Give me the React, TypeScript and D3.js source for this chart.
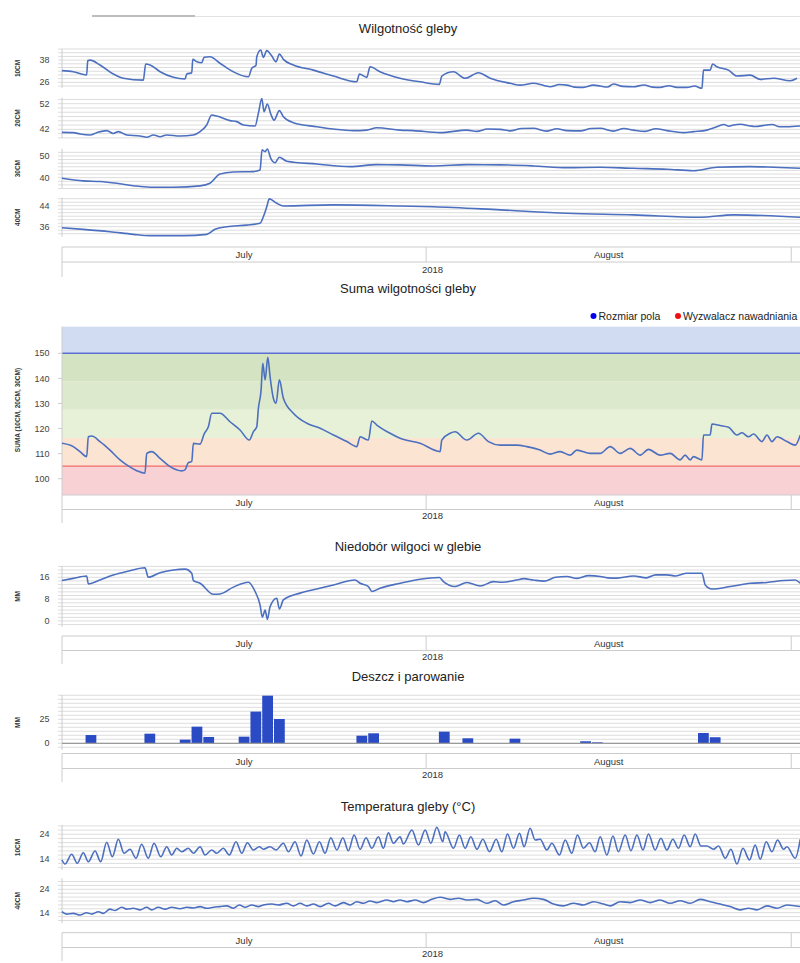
import * as d3 from 'd3'

// time is stored as days since 1 July 2018 (UTC)
const START = Date.UTC(2018, 6, 1)
const DAY = 864e5
const dayDate = (d: number) => new Date(START + d * DAY)

// Wilgotność gleby, 10 / 20 / 30 / 40 cm  [day, value]
const moist10: [number, number][] = [
  [0.08, 32.3], [1.04, 31.7], [2.18, 30], [2.27, 37.7], [2.46, 38], [3.31, 35.4], [4.44, 30.5], [5.29, 28.2],
  [6.99, 27.2], [7.19, 35.9], [7.56, 35.4], [8.41, 31.7], [9.54, 28.7], [10.53, 27.8], [10.68, 30.5], [11.1, 31.2],
  [11.19, 38.4], [11.53, 37.1], [11.95, 36.6], [12.15, 39.5], [12.65, 39.8], [13.5, 36.3], [14.63, 31.7], [15.91, 29],
  [16.2, 33.6], [16.56, 35.2], [16.62, 39.8], [16.96, 43.5], [17.18, 39.5], [17.47, 43.1], [17.9, 40.2], [18.26, 37.1],
  [18.54, 41.3], [18.88, 38.4], [19.73, 35.4], [21.43, 32.6], [23.13, 29.4], [25.11, 26.3], [25.34, 30.5], [25.96, 28.7],
  [26.24, 34.4], [27.09, 31.7], [28.79, 28.2], [30.49, 26.3], [32.13, 24.9], [32.33, 29.4], [33.32, 31.7], [34.31, 28.2],
  [35.44, 31.2], [36.44, 28.2], [38.13, 25.5], [39, 24.5], [40.11, 25.5], [41, 24.3], [41.53, 23.6], [42.3, 24.8],
  [42.95, 24.5], [43.6, 23.4], [44.36, 23.3], [45.2, 24.5], [45.78, 24], [46.4, 23.5], [46.91, 25.1], [47.7, 23.8],
  [48.61, 23.6], [49.5, 24.6], [50.2, 23.4], [50.87, 23.3], [51.6, 24.2], [52.3, 23.3], [53.14, 23.3], [53.8, 24],
  [54.42, 22.8], [54.55, 32.6], [55.12, 32.6], [55.32, 35.9], [55.69, 34.4], [56.68, 32.6], [57.39, 29.4], [58.52, 29.9],
  [59.37, 27.6], [60.5, 28.2], [61.92, 26.9], [62.49, 28.2],
]
const moist20: [number, number][] = [
  [0.08, 40.8], [1.04, 40.7], [1.61, 40.2], [2.46, 39.8], [3.03, 40.7], [3.88, 41.5], [4.44, 40.4], [4.87, 41.1],
  [5.58, 39.8], [6.71, 39.4], [7.28, 38.9], [7.84, 39.8], [8.41, 39.1], [8.98, 39.8], [10.11, 39.4], [11.24, 39.8],
  [11.81, 41.1], [12.37, 43.7], [12.8, 47.6], [13.22, 47.2], [14.35, 45.4], [14.92, 45], [15.48, 43.7], [16.48, 43.3],
  [16.76, 48.3], [17.05, 54], [17.24, 48.9], [17.52, 51.9], [17.81, 48], [18.09, 45.6], [18.54, 49.3], [18.88, 46.9],
  [19.73, 44.6], [21.72, 43], [23.13, 42.1], [24.83, 41.5], [25.96, 41.7], [26.81, 42.6], [28.79, 41.7], [29.92, 41.5],
  [32.19, 40.7], [34.46, 41.7], [35.3, 41.2], [36.2, 42.1], [37.29, 42], [38.1, 41.4], [39.1, 42.3], [40.11, 42.4],
  [41.2, 41.3], [42.1, 42.2], [42.95, 41.5], [44.1, 41.4], [45, 42.3], [45.78, 42.4], [46.9, 41.3], [47.8, 42.3],
  [48.61, 41.7], [49.6, 41.2], [50.5, 42.2], [51.44, 41.5], [52.85, 40.7], [53.7, 41.1], [54.84, 41.7], [55.69, 43],
  [56.3, 43.9], [56.7, 43.2], [57.1, 43.7], [57.7, 44], [58.52, 43.3], [58.9, 43.1], [59.94, 43.7], [60.4, 43.9],
  [61, 43], [61.64, 43], [62.77, 43.3],
]
const moist30: [number, number][] = [
  [0.08, 39.7], [1.89, 38.5], [3.31, 38.2], [4.73, 37.4], [6.14, 36.3], [7.56, 35.6], [9.54, 35.6], [11.81, 36.2],
  [12.65, 37.4], [13.5, 41.7], [14.63, 42.6], [16.33, 42.8], [16.9, 43.5], [17.07, 52.8], [17.33, 52], [17.52, 53.2],
  [17.81, 48.9], [18.18, 46.9], [18.54, 49.4], [19.17, 47.6], [21.72, 46.3], [24.55, 45.1], [26.81, 46], [28.79, 45.9],
  [31.62, 45.4], [34.46, 46], [37.29, 45.9], [40.11, 45.4], [42.95, 44.6], [45.78, 44.8], [48.61, 44.3], [51.44, 43.9],
  [53.7, 43.2], [55.69, 44.8], [58.52, 45.1], [60.5, 44.8], [62.77, 44.3],
]
const moist40: [number, number][] = [
  [0.08, 35.6], [1.89, 35], [4.16, 34.1], [6.14, 33.1], [7.56, 32.6], [10.39, 32.6], [12.37, 33.1], [13.08, 35],
  [14.07, 36], [15.77, 36.6], [16.9, 37.3], [17.18, 39.8], [17.47, 43.6], [17.69, 46.6], [18.32, 44.9], [18.88, 43.9],
  [23.13, 44.3], [28.79, 43.9], [31.62, 43.6], [37.29, 42.4], [42.95, 41.1], [48.61, 40.5], [54.27, 39.6], [57.1, 40.5],
  [62.77, 39.6],
]

// Suma wilgotności gleby (10+20+30 cm)
const moistSum: [number, number][] = [
  [0.08, 114.1], [1.04, 112.8], [1.61, 110.8], [2.18, 108.8], [2.32, 116.7], [2.61, 117], [3.31, 114.8], [4.16, 111.4],
  [5.01, 107.5], [5.58, 105.5], [6.43, 103.2], [7.13, 102.2], [7.28, 110.1], [7.7, 110.8], [8.41, 108.1], [9.26, 104.8],
  [10.25, 103.1], [10.53, 103.5], [10.81, 106.4], [11.1, 106.8], [11.24, 114.1], [11.81, 113.8], [12.15, 117.8], [12.51, 120.7],
  [12.8, 126.1], [13.5, 126.1], [14.35, 122.7], [15.2, 119.4], [15.99, 115.4], [16.33, 118.7], [16.62, 120.7], [16.76, 128.1],
  [16.99, 135.4], [17.13, 146], [17.33, 139.4], [17.56, 148.4], [17.75, 140.7], [18.03, 132.1], [18.26, 130.1], [18.54, 139.4],
  [18.88, 132.1], [19.73, 126.1], [20.87, 122.1], [22, 120.1], [23.13, 117.4], [24.27, 114.8], [25.11, 112.8], [25.4, 116.7],
  [26.1, 115.4], [26.39, 123], [26.81, 121.4], [27.94, 118.1], [28.79, 116.1], [30.49, 114.1], [32.19, 110.8], [32.33, 115.4],
  [33.04, 118.1], [33.46, 118.7], [34.46, 115.4], [35.44, 118.1], [36.29, 114.8], [37.29, 113.4], [38.7, 113.4], [39.55, 112.8],
  [40.68, 111.4], [41.53, 109.8], [42.38, 110.8], [43.23, 109.4], [43.8, 111.4], [44.93, 110.1], [45.78, 110.1], [46.63, 112.8],
  [47.48, 110.1], [48.33, 112.1], [49.18, 109.4], [49.88, 111.7], [50.87, 109.4], [51.72, 110.1], [52.57, 107.5], [52.99, 109.4],
  [53.42, 107.5], [53.7, 108.8], [54.42, 107.5], [54.55, 117.4], [55.12, 117.4], [55.27, 121.8], [55.97, 121.2], [56.68, 120.5],
  [57.39, 117.4], [57.82, 118.3], [58.38, 116.7], [58.8, 117.8], [59.51, 114.8], [59.94, 117.4], [60.36, 114.8], [60.79, 116.7],
  [61.64, 114.8], [62.34, 113.4], [62.77, 117.4],
]
const fieldCapacity = 150
const irrigationTrigger = 105
const zoneEdges = [105, 116.25, 127.5, 138.75, 150]

// Niedobór wilgoci w glebie (mm)
const deficit: [number, number][] = [
  [0.08, 14.8], [1.04, 15.6], [2.18, 16.5], [2.32, 13.6], [3.31, 15], [4.44, 16.8], [5.58, 18.1], [7.13, 19.5],
  [7.41, 16], [8.41, 17.7], [9.54, 18.7], [10.53, 19], [11.1, 17.5], [11.24, 14.8], [11.81, 13.8], [12.94, 9.8],
  [13.5, 9.9], [14.63, 12.4], [15.91, 14.2], [16.48, 10.8], [16.9, 5.9], [17.1, 1.4], [17.33, 4], [17.52, 0.6],
  [17.75, 5.2], [18.32, 8.3], [18.54, 4.4], [18.88, 7.7], [20.3, 10.2], [21.72, 11.7], [23.13, 13.2], [24.97, 15],
  [25.4, 13.8], [26.1, 12.6], [26.39, 10.8], [27.09, 12], [28.79, 13.8], [30.49, 15.3], [32.13, 15.9], [32.47, 14.4],
  [33.46, 12.6], [34.46, 14.1], [35.59, 12.8], [36.72, 14.4], [37.5, 14.2], [38.7, 15], [39.3, 15.5], [40.11, 15],
  [41, 14.6], [42, 16], [42.95, 16.3], [43.8, 15.6], [44.8, 16.6], [45.78, 16.3], [46.4, 15.8], [47.2, 15.7],
  [48.61, 16.5], [49.7, 15.8], [50.5, 16.9], [51.44, 16.9], [52.2, 16.5], [53.14, 17.5], [54.42, 17.5], [54.7, 13.2],
  [55.27, 11.7], [56.82, 12.6], [58.52, 13.8], [59.94, 14.1], [61.35, 14.8], [62.34, 15], [62.77, 13.8],
]

// Deszcz i parowanie (mm per day)
const rainDays = [2, 7, 10, 11, 12, 15, 16, 17, 18, 25, 26, 32, 34, 38, 44, 45, 54, 55]
const rainValues = [8.6, 10, 3.8, 17.3, 6.6, 6.9, 33, 49.6, 25.3, 7.9, 10.4, 12.1, 5.2, 4.8, 2.1, 1, 10.7, 6.3]

// Temperatura gleby (°C), 10 cm and 40 cm
const temp10: [number, number][] = [
  [0.08, 13.7], [0.34, 12.1], [0.91, 16], [1.38, 12.4], [1.89, 16.6], [2.32, 13], [2.89, 17.3], [3.37, 13],
  [3.88, 20.8], [4.36, 15], [4.87, 22], [5.35, 16.4], [5.86, 18], [6.37, 14.4], [6.85, 20], [7.41, 14.4],
  [7.9, 20.4], [8.47, 15], [8.98, 19], [9.4, 15.7], [9.83, 18.4], [10.25, 17], [10.81, 18.4], [11.24, 16.4],
  [11.81, 19], [12.23, 15.7], [12.8, 17.7], [13.22, 16.4], [13.78, 18.4], [14.29, 15.7], [14.86, 21], [15.35, 16.4],
  [15.82, 20.6], [16.33, 17.7], [16.84, 19], [17.18, 18], [17.75, 19], [18.26, 17.7], [18.88, 20.4], [19.31, 17],
  [19.87, 21], [20.38, 15.3], [20.87, 21.7], [21.43, 16.1], [21.94, 21], [22.42, 16.4], [22.91, 22.6], [23.42, 17.7],
  [23.93, 22.6], [24.4, 17.4], [24.89, 23.7], [25.4, 18], [25.9, 22.6], [26.39, 18.4], [26.95, 23], [27.37, 18.4],
  [27.8, 24.6], [28.22, 20.4], [28.79, 23], [29.07, 20.1], [29.79, 25.7], [30.35, 19.7], [30.92, 25.7], [31.4, 20.4],
  [31.91, 26.8], [32.42, 21], [32.61, 25], [33.32, 18.4], [33.83, 23.7], [34.31, 18.4], [34.8, 23], [35.31, 18],
  [35.82, 22], [36.38, 17], [36.95, 22], [37.43, 17], [37.91, 24.1], [38.42, 18.4], [38.93, 24.4], [39.32, 19],
  [39.83, 26.4], [40.26, 21.7], [40.68, 22], [41.25, 17.7], [41.68, 20.4], [42.32, 15.7], [42.81, 21.7], [43.37, 16.4],
  [43.85, 23.7], [44.36, 18.4], [44.87, 20.6], [45.35, 17], [45.78, 23], [46.35, 15.7], [46.86, 23.3], [47.33, 17],
  [47.9, 23.7], [48.39, 17.4], [48.9, 23.7], [49.41, 17.7], [49.88, 24.1], [50.45, 17.7], [50.93, 22.4], [51.44, 17.7],
  [51.95, 22], [52.43, 18.4], [52.91, 23.7], [53.42, 19], [53.85, 24.1], [54.33, 19.3], [54.84, 19.3], [55.4, 18],
  [55.83, 19.3], [56.4, 14.4], [56.88, 18], [57.39, 12.1], [57.9, 18.4], [58.46, 13.7], [58.94, 19.7], [59.37, 14],
  [59.88, 21], [60.36, 17], [60.84, 21.7], [61.35, 18], [61.64, 19], [62.34, 14.4], [62.77, 22],
]
const temp40: [number, number][] = [
  [0.08, 14.4], [0.48, 13.4], [1.04, 13.7], [1.61, 13], [2.18, 14], [2.61, 13.4], [3.17, 14.4], [3.59, 13.7],
  [4.16, 15.5], [4.59, 14.9], [5.16, 16.3], [5.58, 15.5], [6.14, 15.9], [6.71, 15.2], [7.28, 16.3], [7.7, 15.2],
  [8.26, 16.3], [8.83, 15.5], [9.4, 16.3], [10.11, 15.7], [10.68, 16.3], [11.24, 16], [11.81, 16.6], [12.37, 15.9],
  [12.94, 16.3], [13.5, 16.6], [14.07, 16.9], [14.63, 15.9], [15.14, 17.3], [15.63, 16.3], [16.2, 17.3], [16.76, 16.6],
  [17.18, 17.3], [17.9, 17.7], [18.46, 17.3], [19.17, 18], [19.73, 16.9], [20.3, 18], [20.87, 16.9], [21.43, 17.7],
  [22, 16.6], [22.7, 18], [23.27, 16.9], [23.98, 18.3], [24.55, 17.3], [25.11, 18.7], [25.67, 18], [26.24, 19],
  [26.81, 18.3], [27.66, 19.4], [28.22, 18.7], [28.79, 19.4], [29.36, 18.7], [30.07, 19.4], [30.77, 18.3], [31.48, 19.7],
  [32.19, 20.6], [33.04, 19.7], [33.74, 20.2], [34.46, 19.4], [35.31, 19.7], [36.16, 18], [36.86, 19.1], [37.57, 17.3],
  [38.42, 18.7], [39.26, 19.4], [40.11, 20.2], [40.96, 19.7], [41.81, 17.7], [42.66, 16.9], [43.51, 18], [44.36, 17.3],
  [45.21, 18.7], [46.06, 17.7], [46.63, 16.9], [47.48, 18.7], [48.33, 18.3], [49.18, 19.4], [50.03, 18.3], [50.87, 19.4],
  [51.72, 18], [52.57, 19.1], [53.42, 18], [54.27, 19.7], [55.12, 18.7], [55.97, 17.7], [56.82, 16.6], [57.67, 15.2],
  [58.38, 15.9], [59.09, 15.2], [59.94, 16.9], [60.79, 15.9], [61.64, 17.3], [62.77, 16.6],
]

// labelled axis values
const moistTicks = [[26, 38], [42, 52], [40, 50], [36, 44]]
const sumTicks = [100, 110, 120, 130, 140, 150]
const deficitTicks = [0, 8, 16]
const rainTicks = [0, 25]
const tempTicks = [14, 24]

const W = 800
const H = 963
const LEFT = 62
const RIGHT = 803
const FONT = 'Arial, "Liberation Sans", sans-serif'
const LINE = '#4c6fbf'
const GRID = '#dddddd'
const AXIS = '#cccccc'

const x = d3.scaleUtc().domain([dayDate(0), dayDate(63)]).range([61, RIGHT])

function gridValues(lo: number, hi: number, anchor: number, step: number) {
  const out: number[] = []
  let v = anchor
  while (v - step >= lo - 1e-6) v -= step
  for (; v <= hi + 1e-6; v += step) out.push(v)
  return out
}

const AxisLabel = ({ cy, text }: { cy: number; text: string }) => (
  <text transform={`translate(20,${cy}) rotate(-90)`} textAnchor='middle' fontSize={6.5} fontWeight='bold' fill='#333'>
    {text}
  </text>
)

const TickLabels = ({ y, ticks }: { y: d3.ScaleLinear<number, number>; ticks: number[] }) => (
  <g>
    {ticks.map((t) => (
      <text key={t} x={49.5} y={y(t)} dy='0.35em' textAnchor='end' fontSize={9} fill='#444'>
        {t}
      </text>
    ))}
  </g>
)

type PanelProps = {
  top: number
  bottom: number
  domain: [number, number]
  ticks: number[]
  step: number
  label: string
  children: (y: d3.ScaleLinear<number, number>) => any
}

const Panel = ({ top, bottom, domain, ticks, step, label, children }: PanelProps) => {
  const y = d3.scaleLinear().domain(domain).range([bottom, top])
  return (
    <g>
      {gridValues(domain[0], domain[1], ticks[0], step).map((v) => (
        <line key={v} x1={58} x2={RIGHT} y1={y(v)} y2={y(v)} stroke={GRID} />
      ))}
      <line x1={LEFT} x2={LEFT} y1={top} y2={bottom} stroke={AXIS} />
      <TickLabels y={y} ticks={ticks} />
      <AxisLabel cy={(top + bottom) / 2} text={label} />
      {children(y)}
    </g>
  )
}

const linePath = (y: d3.ScaleLinear<number, number>, data: [number, number][]) =>
  d3
    .line<[number, number]>()
    .curve(d3.curveMonotoneX)
    .x((d) => x(dayDate(d[0])))
    .y((d) => y(d[1]))(data) || ''

const Series = ({ y, data }: { y: d3.ScaleLinear<number, number>; data: [number, number][] }) => (
  <path d={linePath(y, data)} fill='none' stroke={LINE} strokeWidth={1.6} strokeLinejoin='round' />
)

// the month / year strip under each chart
const TimeAxis = ({ top, mid, bottom }: { top: number; mid: number; bottom: number }) => {
  const months = d3.utcMonth.range(d3.utcMonth.floor(dayDate(0)), dayDate(63))
  return (
    <g>
      <line x1={LEFT} x2={RIGHT} y1={top} y2={top} stroke={AXIS} />
      <line x1={LEFT} x2={RIGHT} y1={mid} y2={mid} stroke={AXIS} />
      <line x1={LEFT} x2={LEFT} y1={top} y2={bottom} stroke={AXIS} />
      {months.map((m) => {
        const a = x(m)
        const b = x(d3.utcMonth.offset(m, 1))
        const s = Math.max(a, LEFT)
        const e = Math.min(b, RIGHT)
        return (
          <g key={m.getTime()}>
            {a > LEFT + 1 && <line x1={a} x2={a} y1={top} y2={mid} stroke={AXIS} />}
            {e - s > 40 && (
              <text x={(s + e) / 2} y={mid - 4} textAnchor='middle' fontSize={9.5} fill='#333'>
                {d3.utcFormat('%B')(m)}
              </text>
            )}
          </g>
        )
      })}
      <text x={(LEFT + RIGHT) / 2} y={bottom - 4} textAnchor='middle' fontSize={9.5} fill='#333'>
        {d3.utcFormat('%Y')(dayDate(0))}
      </text>
    </g>
  )
}

const Title = ({ y, text }: { y: number; text: string }) => (
  <text x={408} y={y} textAnchor='middle' fontSize={13} fill='#222'>
    {text}
  </text>
)

const zoneColors = ['#fbe5d2', '#e7f1d8', '#dde9cc', '#d4e4c2']

const App = () => {
  const ySum = d3.scaleLinear().domain([93.5, 160.6]).range([495, 326.7])
  const yRain = d3.scaleLinear().domain([-7, 50.3]).range([750, 695])
  const dayW = x(dayDate(1)) - x(dayDate(0))
  const moistPanels = [
    { top: 49, bottom: 87.9, domain: [23, 44] as [number, number], step: 2, label: '10CM', data: moist10 },
    { top: 97.8, bottom: 138.3, domain: [38.5, 54.3] as [number, number], step: 10 / 6, label: '20CM', data: moist20 },
    { top: 148.8, bottom: 188.5, domain: [35, 53.3] as [number, number], step: 10 / 6, label: '30CM', data: moist30 },
    { top: 197.8, bottom: 236.7, domain: [32.2, 47] as [number, number], step: 8 / 6, label: '40CM', data: moist40 },
  ]

  return (
    <div style={{ position: 'absolute', left: 0, top: 0 }}>
      <svg width={W} height={H} style={{ display: 'block', fontFamily: FONT, background: '#fff' }}>
        <rect x={92} y={15} width={103} height={2} fill='#bdbdbd' />
        <line x1={195} x2={W} y1={16.5} y2={16.5} stroke='#e2e2e2' />

        {/* Wilgotność gleby */}
        <Title y={33} text='Wilgotność gleby' />
        {moistPanels.map((p, i) => (
          <Panel key={p.label} top={p.top} bottom={p.bottom} domain={p.domain} ticks={moistTicks[i]} step={p.step} label={p.label}>
            {(y) => <Series y={y} data={p.data} />}
          </Panel>
        ))}
        <TimeAxis top={247} mid={262} bottom={277} />

        {/* Suma wilgotności gleby */}
        <Title y={293} text='Suma wilgotności gleby' />
        <g fontSize={10.5} fill='#222'>
          <circle cx={593.5} cy={316} r={3} fill='#0000ee' />
          <text x={598.5} y={319.5}>Rozmiar pola</text>
          <circle cx={678} cy={316} r={3} fill='#ee1111' />
          <text x={683} y={319.5}>Wyzwalacz nawadniania</text>
        </g>
        <rect x={LEFT} width={RIGHT - LEFT} y={ySum(160.6)} height={ySum(fieldCapacity) - ySum(160.6)} fill='#d1dbf2' />
        {zoneEdges.slice(0, -1).map((lo, i) => (
          <rect
            key={lo}
            x={LEFT}
            width={RIGHT - LEFT}
            y={ySum(zoneEdges[i + 1])}
            height={ySum(lo) - ySum(zoneEdges[i + 1])}
            fill={zoneColors[i]}
          />
        ))}
        <rect x={LEFT} width={RIGHT - LEFT} y={ySum(irrigationTrigger)} height={ySum(93.5) - ySum(irrigationTrigger)} fill='#f8d1d5' />
        <line x1={LEFT} x2={RIGHT} y1={ySum(fieldCapacity)} y2={ySum(fieldCapacity)} stroke='#5b6fd3' strokeWidth={1.4} />
        <line x1={LEFT} x2={RIGHT} y1={ySum(irrigationTrigger)} y2={ySum(irrigationTrigger)} stroke='#f26a6a' strokeWidth={1.4} />
        {sumTicks.map((t) => (
          <line key={t} x1={58} x2={LEFT} y1={ySum(t)} y2={ySum(t)} stroke={AXIS} />
        ))}
        <line x1={LEFT} x2={LEFT} y1={326.7} y2={495} stroke={AXIS} />
        <TickLabels y={ySum} ticks={sumTicks} />
        <AxisLabel cy={410} text='SUMA (10CM, 20CM, 30CM)' />
        <Series y={ySum} data={moistSum} />
        <TimeAxis top={495} mid={509.5} bottom={523} />

        {/* Niedobór wilgoci w glebie */}
        <Title y={551} text='Niedobór wilgoci w glebie' />
        <Panel top={566.1} bottom={626.7} domain={[-2.1, 20.1]} ticks={deficitTicks} step={8 / 6} label='MM'>
          {(y) => <Series y={y} data={deficit} />}
        </Panel>
        <TimeAxis top={636} mid={650.5} bottom={664} />

        {/* Deszcz i parowanie */}
        <Title y={681} text='Deszcz i parowanie' />
        <Panel top={695} bottom={750} domain={[-7, 50.3]} ticks={rainTicks} step={25 / 6} label='MM'>
          {(y) => (
            <g>
              {rainDays.map((d, i) => (
                <rect
                  key={d}
                  x={x(dayDate(d)) + 1}
                  width={dayW - 1}
                  y={y(rainValues[i])}
                  height={y(0) - y(rainValues[i])}
                  fill='#2a4bc4'
                />
              ))}
            </g>
          )}
        </Panel>
        <line x1={LEFT} x2={RIGHT} y1={yRain(0)} y2={yRain(0)} stroke='#9a9a9a' strokeWidth={1.3} />
        <TimeAxis top={753.5} mid={768.5} bottom={782} />

        {/* Temperatura gleby */}
        <Title y={811} text='Temperatura gleby (°C)' />
        <Panel top={825} bottom={870} domain={[9.7, 27.7]} ticks={tempTicks} step={10 / 6} label='10CM'>
          {(y) => <Series y={y} data={temp10} />}
        </Panel>
        <Panel top={878.3} bottom={923.2} domain={[9.5, 28.7]} ticks={tempTicks} step={10 / 6} label='40CM'>
          {(y) => <Series y={y} data={temp40} />}
        </Panel>
        <TimeAxis top={932.7} mid={947.5} bottom={961} />
      </svg>
    </div>
  )
}

export default App
